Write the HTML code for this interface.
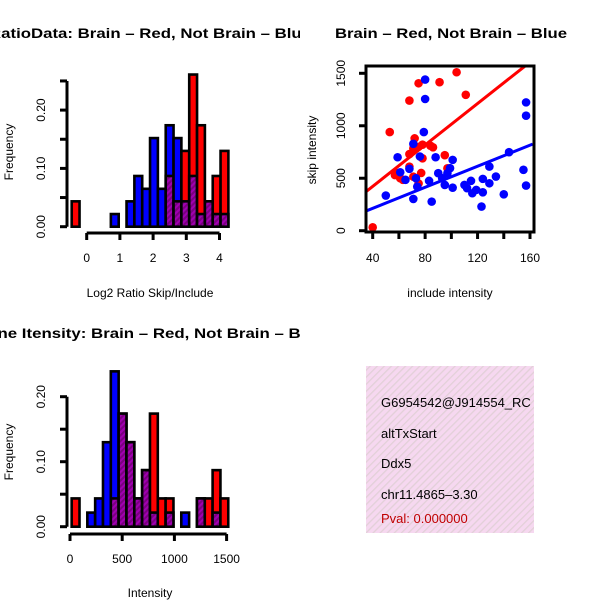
<!DOCTYPE html>
<html><head><meta charset="utf-8"><style>
html,body{margin:0;padding:0;background:#fff;}
svg{display:block;font-family:"Liberation Sans",sans-serif;}
</style></head><body>
<svg id="chart" width="600" height="600" viewBox="0 0 600 600" xmlns="http://www.w3.org/2000/svg">
<defs>
<pattern id="hatch" patternUnits="userSpaceOnUse" width="4" height="4" patternTransform="rotate(45)">
<rect width="4" height="4" fill="#a000b0"/><rect width="2" height="4" fill="#7a0080"/>
</pattern>
<pattern id="pink" patternUnits="userSpaceOnUse" width="5" height="5" patternTransform="rotate(45)">
<rect width="5" height="5" fill="#f6d8f0"/><rect width="1.3" height="5" fill="#e2d0d8"/>
</pattern>
<clipPath id="clipL"><rect x="0" y="0" width="300" height="600"/></clipPath>
<clipPath id="clipInfo"><rect x="366" y="366" width="168" height="167"/></clipPath>
</defs>
<g id="g1"></g>
<g id="g2"></g>
<g id="g3"></g>
<g clip-path="url(#clipInfo)">
<rect x="366" y="366" width="168" height="167" fill="url(#pink)"/>
<text x="381" y="407" font-size="13">G6954542@J914554_RC</text>
<text x="381" y="438" font-size="13">altTxStart</text>
<text x="381" y="468" font-size="13">Ddx5</text>
<text x="381" y="499" font-size="13">chr11.4865–3.30</text>
<text x="381" y="523" font-size="13" fill="#c00000">Pval: 0.000000</text>
</g>
</svg>
<script>
// Ratio histogram data (bins of width ~0.236 starting -0.452)
const ratioBreakStart = -0.452, ratioBinWidth = 0.236;
const ratioRed  = [0.0435,0,0,0,0,0,0,0,0,0,0,0,0.087,0.0435,0.13,0.261,0.174,0.0435,0.087,0.13];
const ratioBlue = [0,0,0,0,0,0.0217,0,0.0435,0.087,0.065,0.152,0.065,0.174,0.152,0.0435,0.087,0.0217,0.0435,0.0217,0.0217];
const ratioXTicks = [0,1,2,3,4];
const freqTicks1 = [0,0.05,0.10,0.15,0.20,0.25];
// Intensity histogram data
const intBreakStart = 16, intBinWidth = 75;
const intRed  = [0.0435,0,0,0,0,0.0435,0.174,0.13,0.0435,0.087,0.174,0.0435,0.0435,0,0,0,0.0435,0.0435,0.087,0.0435];
const intBlue = [0,0,0.0217,0.0435,0.13,0.239,0.174,0.13,0.0435,0.087,0.0217,0,0.0217,0,0.0217,0,0.0435,0,0.0217,0];
const intXTicks = [0,500,1000,1500];
const freqTicks2 = [0,0.05,0.10,0.15,0.20];
// Scatter data
const redInc  = [40,53,57,61,68,75,91,104,111,68,72,71,75,78,84,86,95,78,68,77,71,97,58,63,75];
const redSkip = [32,940,530,500,1240,1405,1415,1510,1295,730,880,785,800,820,810,795,720,690,610,550,515,595,550,485,450];
const blueInc  = [50,59,61,65,68,71,71,73,74,76,80,80,79,83,85,88,90,93,95,97,99,101,101,110,112,115,116,119,123,124,124,129,129,134,140,144,155,157,157,157];
const blueSkip = [335,700,557,485,590,828,303,500,420,707,1440,1255,940,475,277,700,548,500,436,548,596,675,410,436,405,475,357,389,230,494,366,611,452,516,347,748,580,430,1223,1096];
const redFit = [[35,373],[156,1567]];
const blueFit = [[35,188],[162,825]];
const scXTicks = [40,80,120,160], scXMinor=[40,60,80,100,120,140,160];
const scYTicks = [0,500,1000,1500];

const NS="http://www.w3.org/2000/svg";
function mk(parent,tag,attrs,txt){const e=document.createElementNS(NS,tag);for(const k in attrs)e.setAttribute(k,attrs[k]);if(txt!==undefined)e.textContent=txt;parent.appendChild(e);return e;}

function hist(g,o){
  const xs=v=>o.x0+o.xk*v, ys=v=>o.y0-o.yk*v;
  const tg=mk(g,'g',{'clip-path':'url(#clipL)'});
  const t=mk(tg,'text',{x:150,y:o.titleY,'text-anchor':'middle','font-size':14,'font-weight':'bold',textLength:o.titleLen,lengthAdjust:'spacingAndGlyphs'},o.title);
  
  
  o.red.forEach((r,i)=>{
    const b=o.blue[i]; if(r===0&&b===0)return;
    const l=xs(o.bs+o.bw*i), w=xs(o.bs+o.bw*(i+1))-l;
    const hi=Math.max(r,b), lo=Math.min(r,b);
    const bar=mk(g,'rect',{x:l,y:ys(hi),width:w,height:ys(0)-ys(hi),fill:r>=b?'#ff0000':'#0000ff',stroke:'#000','stroke-width':2.6});
    
    
    if(lo>0){
      const p=mk(g,'rect',{x:l,y:ys(lo),width:w,height:ys(0)-ys(lo),fill:'url(#hatch)',stroke:'#000','stroke-width':2.6});
      
      
    }
  });
  const yt=o.yt;
  mk(g,'line',{x1:67,x2:67,y1:ys(yt[0]),y2:ys(yt[yt.length-1]),stroke:'#000','stroke-width':3});
  yt.forEach((v,i)=>{
    mk(g,'line',{x1:60,x2:67,y1:ys(v),y2:ys(v),stroke:'#000','stroke-width':3});
    if(i%2===0){const tl=mk(g,'text',{x:45,y:ys(v),'text-anchor':'middle','font-size':12,transform:`rotate(-90 45 ${ys(v)})`},v.toFixed(2));
      
      }
  });
  const xt=o.xt, ay=o.axisY;
  mk(g,'line',{x1:xs(xt[0]),x2:xs(xt[xt.length-1]),y1:ay,y2:ay,stroke:'#000','stroke-width':3});
  xt.forEach(v=>{
    mk(g,'line',{x1:xs(v),x2:xs(v),y1:ay,y2:ay+7,stroke:'#000','stroke-width':3});
    const tl=mk(g,'text',{x:xs(v),y:ay+29,'text-anchor':'middle','font-size':12},String(v));
    
    
  });
  const yl=mk(g,'text',{x:13,y:o.ylabY,'text-anchor':'middle','font-size':12,transform:`rotate(-90 13 ${o.ylabY})`},'Frequency');
  
  
  const xl=mk(g,'text',{x:150,y:o.xlabY,'text-anchor':'middle','font-size':12},o.xlab);
  
  
}
hist(document.getElementById('g1'),{x0:86.7,xk:33.2,y0:226.7,yk:583,red:ratioRed,blue:ratioBlue,bs:ratioBreakStart,bw:ratioBinWidth,
  yt:freqTicks1,xt:ratioXTicks,axisY:233,title:'RatioData: Brain – Red, Not Brain – Blue',titleLen:322,titleY:38,ylabY:152,xlabY:297,xlab:'Log2 Ratio Skip/Include'});
hist(document.getElementById('g3'),{x0:70,xk:0.1044,y0:526.7,yk:650,red:intRed,blue:intBlue,bs:intBreakStart,bw:intBinWidth,
  yt:freqTicks2,xt:intXTicks,axisY:534,title:'Gene Itensity: Brain – Red, Not Brain – Blue',titleLen:350,titleY:338,ylabY:452,xlabY:597,xlab:'Intensity'});

(function(){
  const g=document.getElementById('g2');
  const xs=v=>372.7+(v-40)*(530-372.7)/120, ys=v=>230.7-v*(230.7-73.3)/1500;
  const t=mk(g,'text',{x:451,y:38,'text-anchor':'middle','font-size':14,'font-weight':'bold',textLength:232,lengthAdjust:'spacingAndGlyphs'},'Brain – Red, Not Brain – Blue');
  
  
  const cp=mk(g,'clipPath',{id:'scClip'}); mk(cp,'rect',{x:366,y:66,width:168,height:166});
  const pts=mk(g,'g',{'clip-path':'url(#scClip)'});
  redInc.forEach((x,i)=>{const c=mk(pts,'circle',{cx:xs(x),cy:ys(redSkip[i]),r:4.3,fill:'#ff0000'});
    
    });
  blueInc.forEach((x,i)=>{const c=mk(pts,'circle',{cx:xs(x),cy:ys(blueSkip[i]),r:4.3,fill:'#0000ff'});
    
    });
  const rl=mk(pts,'line',{x1:xs(redFit[0][0]),y1:ys(redFit[0][1]),x2:xs(redFit[1][0]),y2:ys(redFit[1][1]),stroke:'#ff0000','stroke-width':3});
  
  
  const bl=mk(pts,'line',{x1:xs(blueFit[0][0]),y1:ys(blueFit[0][1]),x2:xs(blueFit[1][0]),y2:ys(blueFit[1][1]),stroke:'#0000ff','stroke-width':3});
  
  
  mk(g,'rect',{x:366,y:66,width:168,height:166,fill:'none',stroke:'#000','stroke-width':3});
  scXMinor.forEach(v=>mk(g,'line',{x1:xs(v),x2:xs(v),y1:232,y2:239,stroke:'#000','stroke-width':3}));
  scXTicks.forEach(v=>{const tl=mk(g,'text',{x:xs(v),y:262,'text-anchor':'middle','font-size':12},String(v));
    
    });
  scYTicks.forEach(v=>{mk(g,'line',{x1:359,x2:366,y1:ys(v),y2:ys(v),stroke:'#000','stroke-width':3});
    const tl=mk(g,'text',{x:345,y:ys(v),'text-anchor':'middle','font-size':12,transform:`rotate(-90 345 ${ys(v)})`},String(v));
    
    });
  const xl=mk(g,'text',{x:450,y:297,'text-anchor':'middle','font-size':12},'include intensity');
  
  
  const yl=mk(g,'text',{x:316,y:150,'text-anchor':'middle','font-size':12,transform:'rotate(-90 316 150)'},'skip intensity');
  
  
})();
</script>
</body></html>
